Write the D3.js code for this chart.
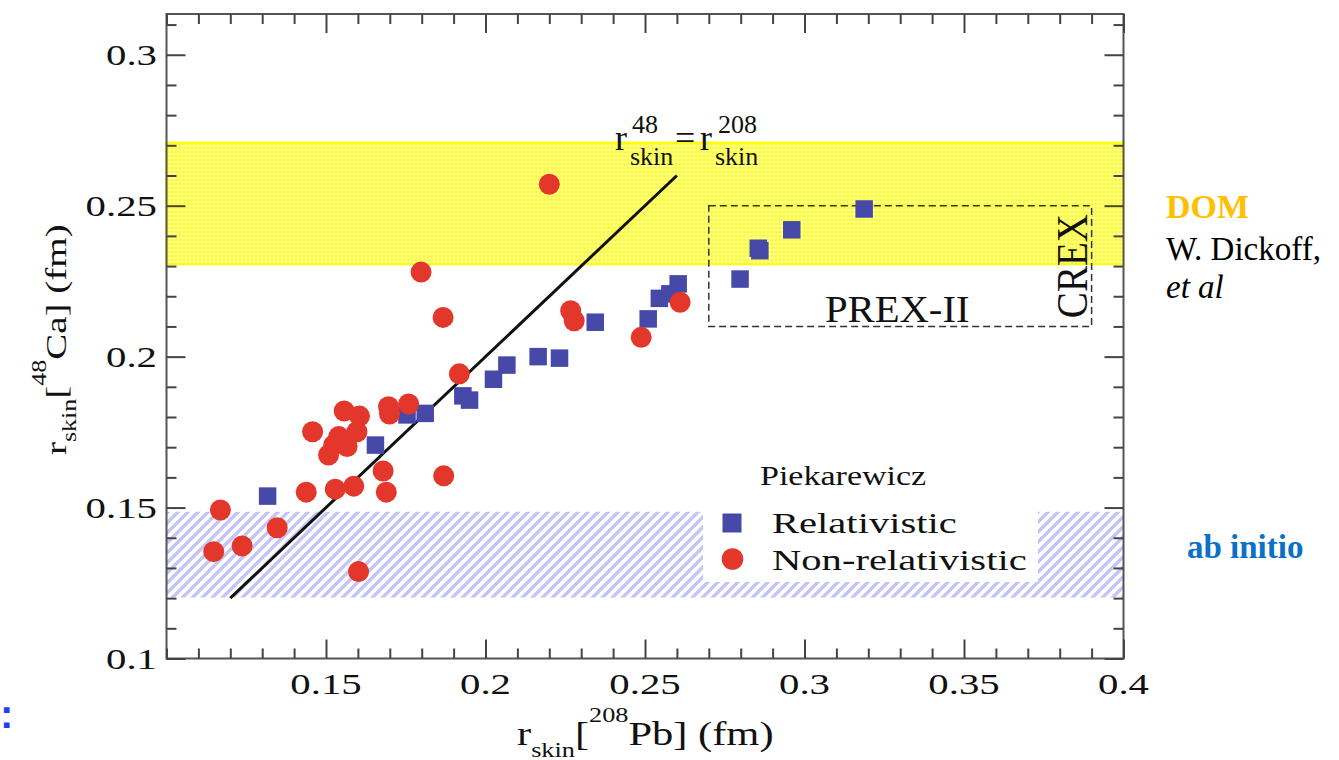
<!DOCTYPE html>
<html>
<head>
<meta charset="utf-8">
<script src="https://cdn.jsdelivr.net/npm/d3@7"></script>
<style>
  body { margin: 0; background: #fff; }
  text { font-family: "Liberation Serif", "Times New Roman", serif; fill: #111; }
</style>
</head>
<body>
<div id="app"></div>
<script>

//
// Data
//

// Relativistic models (blue squares)
const relX = [0.1317, 0.1655, 0.1754, 0.1811, 0.1929, 0.1950, 0.2025, 0.2067, 0.2165, 0.2232,
              0.2344, 0.2510, 0.2545, 0.2578, 0.2604, 0.2798, 0.2855, 0.2860, 0.2960, 0.3187]
const relY = [0.1538, 0.1707, 0.1807, 0.1812, 0.1870, 0.1856, 0.1925, 0.1972, 0.2000, 0.1995,
              0.2114, 0.2125, 0.2193, 0.2208, 0.2241, 0.2257, 0.2359, 0.2351, 0.2420, 0.2489]

// Non-relativistic models (red circles)
const nonrelX = [0.1169, 0.1148, 0.1237, 0.1347, 0.1602, 0.1438, 0.1529, 0.1587, 0.1679, 0.1689,
                 0.1869, 0.1458, 0.1508, 0.1524, 0.1540, 0.1557, 0.1566, 0.1597, 0.1605, 0.1696,
                 0.1699, 0.1759, 0.1798, 0.1867, 0.1918, 0.2200, 0.2267, 0.2278, 0.2488, 0.2610]
const nonrelY = [0.1492, 0.1354, 0.1373, 0.1433, 0.1288, 0.1551, 0.1561, 0.1571, 0.1621, 0.1551,
                 0.1605, 0.1751, 0.1674, 0.1707, 0.1735, 0.1820, 0.1702, 0.1751, 0.1803, 0.1834,
                 0.1810, 0.1843, 0.2280, 0.2130, 0.1943, 0.2571, 0.2152, 0.2119, 0.2064, 0.2180]

const domBand = [0.2306, 0.2709]      // DOM (yellow)
const abInitioBand = [0.1202, 0.1486] // ab initio (blue hatch)
const prexX = [0.27, 0.39]            // PREX-II / CREX box
const prexY = [0.21, 0.25]
const diagonal = [0.12, 0.26]         // r48 = r208 line

const xMajor = [0.15, 0.2, 0.25, 0.3, 0.35, 0.4]
const xTickLabels = ['0.15', '0.2', '0.25', '0.3', '0.35', '0.4']
const yMajor = [0.1, 0.15, 0.2, 0.25, 0.3]
const yTickLabels = ['0.1', '0.15', '0.2', '0.25', '0.3']


//
// Constants
//

const width = 1339
const height = 760
const frame = { left: 166.5, right: 1123.5, top: 14, bottom: 658.5 }
const red = '#e2372a'
const blue = '#4649a8'
const tickColor = '#444'


//
// Scales
//

const x = d3.scaleLinear().domain([0.1, 0.4]).range([frame.left, frame.right])
const y = d3.scaleLinear().domain([0.1, 0.3135]).range([frame.bottom, frame.top])

const xMinor = d3.range(10, 41).map(d => d / 100).filter(d => !xMajor.some(m => Math.abs(m - d) < 1e-9))
const yMinor = d3.range(10, 32).map(d => d / 100).filter(d => !yMajor.some(m => Math.abs(m - d) < 1e-9))


//
// Chart
//

const svg = d3.select('#app').append('svg')
  .attr('width', width)
  .attr('height', height)
  .style('display', 'block')

const defs = svg.append('defs')

// yellow crosshatch for the DOM band
const dots = defs.append('pattern').attr('id', 'dots')
  .attr('patternUnits', 'userSpaceOnUse').attr('width', 4).attr('height', 4)
dots.append('rect').attr('width', 4).attr('height', 4).attr('fill', '#ffff2a')
dots.append('circle').attr('cx', 2).attr('cy', 2).attr('r', 1.2).attr('fill', '#fffff4')

// diagonal hatch for the ab initio band
const hatch = defs.append('pattern').attr('id', 'hatch')
  .attr('patternUnits', 'userSpaceOnUse').attr('width', 10).attr('height', 10)
hatch.append('path')
  .attr('d', 'M-2,2 L2,-2 M0,10 L10,0 M8,12 L12,8')
  .attr('stroke', '#c4c4f7').attr('stroke-width', 3.4)

// bands
svg.append('rect')
  .attr('x', frame.left).attr('width', frame.right - frame.left)
  .attr('y', y(domBand[1])).attr('height', y(domBand[0]) - y(domBand[1]))
  .attr('fill', 'url(#dots)')
  .attr('stroke', '#ffff00').attr('stroke-width', 2)

svg.append('rect')
  .attr('x', frame.left).attr('width', frame.right - frame.left)
  .attr('y', y(abInitioBand[1])).attr('height', y(abInitioBand[0]) - y(abInitioBand[1]))
  .attr('fill', 'url(#hatch)')

// white legend box sitting on top of the hatch
svg.append('rect')
  .attr('x', 703).attr('y', 455).attr('width', 335).attr('height', 127)
  .attr('fill', '#fff')

// PREX-II / CREX box
svg.append('rect')
  .attr('x', x(prexX[0])).attr('width', x(prexX[1]) - x(prexX[0]))
  .attr('y', y(prexY[1])).attr('height', y(prexY[0]) - y(prexY[1]))
  .attr('fill', 'none').attr('stroke', '#333').attr('stroke-width', 1.5)
  .attr('stroke-dasharray', '7,4')

// r48 = r208 line
svg.append('line')
  .attr('x1', x(diagonal[0])).attr('y1', y(diagonal[0]))
  .attr('x2', x(diagonal[1])).attr('y2', y(diagonal[1]))
  .attr('stroke', '#111').attr('stroke-width', 3)

// points
const sq = 17.5
svg.append('g').selectAll('rect').data(d3.range(relX.length))
  .join('rect')
  .attr('x', i => x(relX[i]) - sq / 2)
  .attr('y', i => y(relY[i]) - sq / 2)
  .attr('width', sq).attr('height', sq)
  .attr('fill', blue)

svg.append('g').selectAll('circle').data(d3.range(nonrelX.length))
  .join('circle')
  .attr('cx', i => x(nonrelX[i]))
  .attr('cy', i => y(nonrelY[i]))
  .attr('r', 10.5)
  .attr('fill', red)

// frame
svg.append('rect')
  .attr('x', frame.left).attr('y', frame.top)
  .attr('width', frame.right - frame.left).attr('height', frame.bottom - frame.top)
  .attr('fill', 'none').attr('stroke', '#555').attr('stroke-width', 2)

// inward ticks on all four sides
const axes = [
  [d3.axisBottom(x), `translate(0,${frame.bottom})`, xMajor, xMinor],
  [d3.axisTop(x), `translate(0,${frame.top})`, xMajor, xMinor],
  [d3.axisLeft(y), `translate(${frame.left},0)`, yMajor, yMinor],
  [d3.axisRight(y), `translate(${frame.right},0)`, yMajor, yMinor],
]
axes.forEach(([axis, tr, major, minor]) => {
  const gMaj = svg.append('g').attr('transform', tr)
    .call(axis.tickValues(major).tickSize(-19).tickFormat(''))
  const gMin = svg.append('g').attr('transform', tr)
    .call(axis.tickValues(minor).tickSize(-10).tickFormat(''))
  ;[gMaj, gMin].forEach(g => {
    g.select('.domain').remove()
    g.selectAll('line').attr('stroke', tickColor).attr('stroke-width', 2)
  })
})

// tick labels (the reference glyphs are stretched horizontally)
svg.append('g').selectAll('text').data(xMajor)
  .join('text')
  .attr('transform', d => `translate(${x(d)},694) scale(1.36,1)`)
  .attr('text-anchor', 'middle')
  .attr('font-size', 30)
  .text((d, i) => xTickLabels[i])

svg.append('g').selectAll('text').data(yMajor)
  .join('text')
  .attr('transform', d => `translate(157,${y(d) + 10}) scale(1.36,1)`)
  .attr('text-anchor', 'end')
  .attr('font-size', 30)
  .text((d, i) => yTickLabels[i])

// axis titles
const xTitle = svg.append('text')
  .attr('transform', 'translate(517,745) scale(1.25,1)')
  .attr('font-size', 34)
xTitle.append('tspan').text('r')
xTitle.append('tspan').attr('font-size', 21).attr('dy', 12).text('skin')
xTitle.append('tspan').attr('dy', -12).text('[')
xTitle.append('tspan').attr('font-size', 21).attr('dy', -23).text('208')
xTitle.append('tspan').attr('dy', 23).text('Pb] (fm)')

const yTitle = svg.append('text')
  .attr('transform', 'translate(66,455) rotate(-90) scale(1.3,1)')
  .attr('font-size', 30)
yTitle.append('tspan').text('r')
yTitle.append('tspan').attr('font-size', 20).attr('dy', 10).text('skin')
yTitle.append('tspan').attr('dy', -10).text('[')
yTitle.append('tspan').attr('font-size', 20).attr('dy', -20).text('48')
yTitle.append('tspan').attr('dy', 20).text('Ca] (fm)')

// label of the diagonal line
const ax = x(diagonal[1]) - 62
const ay = y(diagonal[1]) - 26
const eq = svg.append('g').attr('transform', `translate(${ax},${ay})`)
eq.append('text').attr('font-size', 36).text('r')
eq.append('text').attr('x', 15).attr('y', 15).attr('font-size', 26).text('skin')
eq.append('text').attr('x', 17).attr('y', -17).attr('font-size', 26).text('48')
eq.append('text').attr('x', 60).attr('font-size', 36).text('=')
eq.append('text').attr('x', 85).attr('font-size', 36).text('r')
eq.append('text').attr('x', 100).attr('y', 15).attr('font-size', 26).text('skin')
eq.append('text').attr('x', 103).attr('y', -17).attr('font-size', 26).text('208')

// PREX-II and CREX labels
svg.append('text')
  .attr('transform', `translate(${(x(prexX[0]) + x(prexX[1])) / 2 - 3},322) scale(1.1,1)`)
  .attr('text-anchor', 'middle')
  .attr('font-size', 37)
  .text('PREX-II')

svg.append('text')
  .attr('transform', `translate(1087,${(y(prexY[0]) + y(prexY[1])) / 2}) rotate(-90) scale(1.15,1.33)`)
  .attr('text-anchor', 'middle')
  .attr('font-size', 34)
  .text('CREX')

// legend
svg.append('text')
  .attr('transform', 'translate(760,485) scale(1.26,1)')
  .attr('font-size', 27)
  .text('Piekarewicz')

svg.append('rect')
  .attr('x', 732 - 9.5).attr('y', 523 - 9.5).attr('width', 19).attr('height', 19)
  .attr('fill', blue)
svg.append('circle')
  .attr('cx', 732.5).attr('cy', 559).attr('r', 10.8)
  .attr('fill', red)

svg.append('text')
  .attr('transform', 'translate(772,533) scale(1.4,1)')
  .attr('font-size', 29)
  .text('Relativistic')
svg.append('text')
  .attr('transform', 'translate(772,570) scale(1.4,1)')
  .attr('font-size', 29)
  .text('Non-relativistic')

// slide annotations outside the plot
svg.append('text')
  .attr('x', 1166).attr('y', 218)
  .attr('font-size', 34).attr('font-weight', 'bold')
  .style('fill', '#ffc000')
  .text('DOM')
svg.append('text')
  .attr('x', 1166).attr('y', 260)
  .attr('font-size', 33)
  .style('fill', '#000')
  .text('W. Dickoff,')
svg.append('text')
  .attr('x', 1166).attr('y', 298)
  .attr('font-size', 33).attr('font-style', 'italic')
  .style('fill', '#000')
  .text('et al')
svg.append('text')
  .attr('x', 1187).attr('y', 558)
  .attr('font-size', 33).attr('font-weight', 'bold')
  .style('fill', '#0a70c8')
  .text('ab initio')

svg.append('text')
  .attr('x', 0).attr('y', 728)
  .attr('font-size', 40).attr('font-weight', 'bold')
  .style('font-family', '"Liberation Sans", sans-serif')
  .style('fill', '#1f3cff')
  .text(':')

</script>
</body>
</html>
